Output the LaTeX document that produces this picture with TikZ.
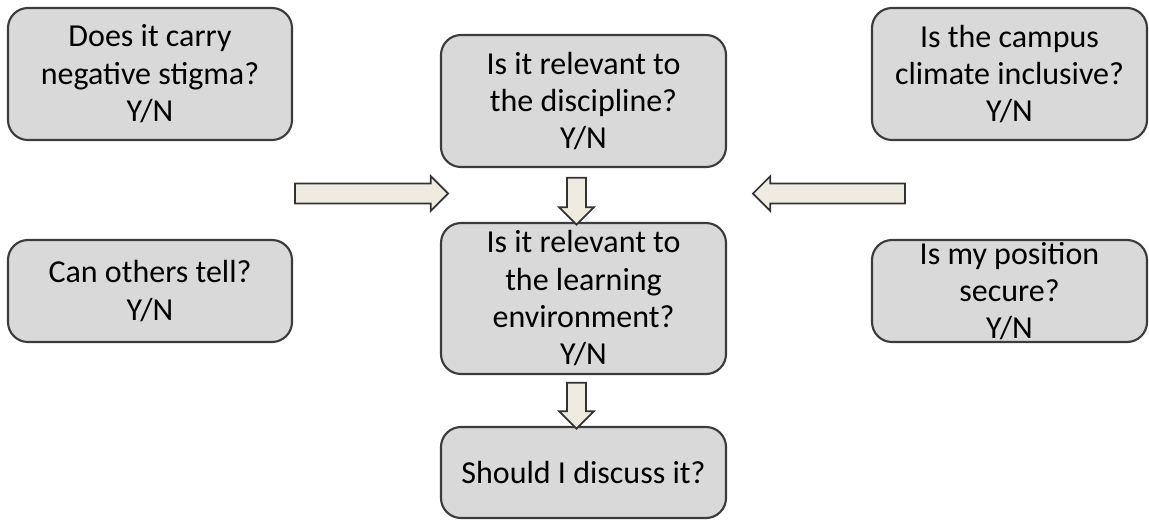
\documentclass[tikz,border=0pt]{standalone}
\usepackage{fontspec}
\setmainfont{Carlito}
\usepackage{xcolor}
\usepackage{tikz}
\usetikzlibrary{shapes.arrows,calc}
\definecolor{boxgray}{HTML}{D9D9D9}
\definecolor{edgegray}{HTML}{3C3C3C}
\definecolor{arrowfill}{HTML}{EEECE1}

\begin{document}
\begin{tikzpicture}[x=0.75pt,y=-0.75pt,
question/.style={draw=edgegray,line width=1.6pt,fill=boxgray,rounded corners=15pt,
  align=center,inner sep=0pt,font=\fontsize{24}{28}\selectfont},
blockarrow/.style={single arrow,draw=black!80,line width=1.3pt,fill=arrowfill,
  inner sep=6.9pt,single arrow head extend=5.4pt}]
\useasboundingbox(0,0)rectangle(1149,521);
% left column
\node(stigma)[question,minimum width=213pt,minimum height=99pt]at(150,74)
{Does it carry\\negative stigma?\\Y/N};
\node(tell)[question,minimum width=213pt,minimum height=76.5pt]at(150,291)
{Can others tell?\\Y/N};
% middle column
\node(discipline)[question,minimum width=213.75pt,minimum height=99pt]at(583.5,101)
{Is it relevant to\\the discipline?\\Y/N};
\node(learning)[question,minimum width=213.75pt,minimum height=113.25pt]at(583.5,298.5)
{Is it relevant to\\the learning\\environment?\\Y/N};
\node(discuss)[question,minimum width=213.75pt,minimum height=68.25pt]at(583.5,472.5)
{Should I discuss it?};
% right column
\node(campus)[question,minimum width=206.25pt,minimum height=99pt]at(1009.5,74)
{Is the campus\\climate inclusive?\\Y/N};
\node(secure)[question,minimum width=206.25pt,minimum height=76.5pt]at(1009.5,291)
{Is my position\\secure?\\Y/N};
% arrows
\node(fromleft)[blockarrow,minimum height=114.75pt]at(366.5,193.5){};
\node(fromright)[blockarrow,minimum height=114pt,shape border rotate=180]at(834,193.5){};
\node(down1)[blockarrow,minimum height=35.25pt,shape border rotate=270,inner sep=6.4pt,
  single arrow head extend=6pt]
at($(discipline.south)!0.5!(learning.north)+(-7,1.5)$){};
\node(down2)[blockarrow,minimum height=34.5pt,shape border rotate=270,inner sep=6.4pt,
  single arrow head extend=6pt]
at($(learning.south)!0.5!(discuss.north)+(-7,0.5)$){};
\end{tikzpicture}
\end{document}
